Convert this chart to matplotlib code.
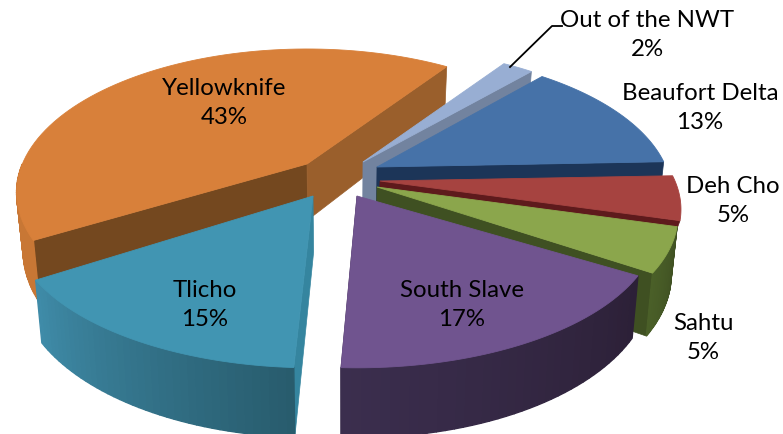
import numpy as np
import matplotlib
matplotlib.use('Agg')
import matplotlib.pyplot as plt
from matplotlib.colors import to_rgb
from matplotlib.patches import Polygon

plt.rcParams['font.family'] = ['Lato', 'DejaVu Sans']

# Chart data, clockwise from the first slice
regions = ['Beaufort Delta', 'Deh Cho', 'Sahtu', 'South Slave', 'Tlicho', 'Yellowknife', 'Out of the NWT']
shares = [13, 5, 5, 17, 15, 43, 2]

# Colours per slice: top face, radial wall at slice end, radial wall at slice start, outer wall (2 ends)
top_colors = ['#4672a8', '#a64340', '#8ba64c', '#70548f', '#4195b2', '#d8803a', '#98aed3']
end_walls = ['#1c3558', '#5e1a1c', '#3f5022', '#33263f', '#2a6a80', '#9a5f2c', '#72839f']
start_walls = [None, None, None, None, '#35859f', '#74481f', None]
outer_a = ['#2f4f78', '#7a2c2a', '#4a5f28', '#3b2e4e', '#3f8ba8', '#c87735', '#72839f']
outer_b = ['#2f4f78', '#7a2c2a', '#3f5022', '#2c2037', '#285c6d', '#c87735', '#72839f']
rim_shown = [True, False, True, True, True, True, False]

# Layout in pixels
apex_x = [377, 380, 377, 357, 313, 307, 363]
apex_y = [168, 182, 188, 197, 197, 165, 163]
x_scale = [0.98, 1, 1, 1, 1, 0.965, 1]
wall_scale = [1, 0.3, 1, 1, 1, 1, 1]
angle_shift = [0, 0, 0, -2.5, -2, 1, 0]
label_x = [700, 733, 703, 462, 205, 224, 647]
label_y = [108, 201, 338, 305, 305, 103, 35]
start_angle = 41
draw_order = [5, 6, 0, 1, 2, 4, 3]

# Perspective of the tilted disc
R_X = 295
R_Y = 137.8
K = 0.198
DEPTH = 56
SHRINK = 0.98
MID_X = 345


def project(theta, i):
    # theta in degrees, clockwise from the back of the pie
    t = np.radians(theta)
    u, v = np.sin(t), np.cos(t)
    w = 1 + K * v
    return apex_x[i] + x_scale[i] * R_X * u / w, apex_y[i] - R_Y * v / w, w


def lower(x, y, w, scale=1):
    # same point on the bottom of the slab
    return MID_X + (x - MID_X) * SHRINK, y + scale * DEPTH / w


def radial_wall(ax, theta, i, color):
    x0, y0 = apex_x[i], apex_y[i]
    x1, y1, w1 = project(theta, i)
    xb0, yb0 = lower(x0, y0, 1, wall_scale[i])
    xb1, yb1 = lower(x1, y1, w1, wall_scale[i])
    ax.add_patch(Polygon([(x0, y0), (x1, y1), (xb1, yb1), (xb0, yb0)], closed=True, fc=color, ec=color, lw=0.5))


def outer_wall(ax, a0, a1, i):
    angles = np.linspace(a0, a1, 41)
    c0, c1 = np.array(to_rgb(outer_a[i])), np.array(to_rgb(outer_b[i]))
    for k in range(40):
        xa, ya, wa = project(angles[k], i)
        xc, yc, wc = project(angles[k + 1], i)
        xab, yab = lower(xa, ya, wa)
        xcb, ycb = lower(xc, yc, wc)
        f = k / 39
        col = c1 * (1 - f) + c0 * f
        ax.add_patch(Polygon([(xa, ya), (xc, yc), (xcb, ycb), (xab, yab)], closed=True, fc=col, ec=col, lw=1.0))


fig = plt.figure(figsize=(7.83, 4.35), dpi=100)
ax = fig.add_axes([0, 0, 1, 1])
ax.set_xlim(0, 783)
ax.set_ylim(435, 0)
ax.axis('off')

fractions = np.array(shares) / sum(shares)
starts = start_angle + 360 * np.concatenate(([0], np.cumsum(fractions)[:-1])) + np.array(angle_shift)
ends = starts + 360 * fractions

for i in draw_order:
    a0, a1 = starts[i], ends[i]
    if start_walls[i] is not None:
        radial_wall(ax, a0, i, start_walls[i])
    if regions[i] != 'Tlicho':
        radial_wall(ax, a1, i, end_walls[i])
    # the part of the rim that faces the viewer
    if rim_shown[i] and a0 < 270 and a1 > 90:
        outer_wall(ax, max(a0, 90), min(a1, 270), i)
    angles = np.linspace(a0, a1, 80)
    xs, ys, _ = project(angles, i)
    pts = [(apex_x[i], apex_y[i])] + list(zip(xs, ys))
    ax.add_patch(Polygon(pts, closed=True, fc=top_colors[i], ec=top_colors[i], lw=0.6))

# Leader line for the small slice
leader_x = [510, 552, 562]
leader_y = [68, 27, 27]
ax.plot(leader_x, leader_y, color='black', lw=1.3)

for i in range(len(regions)):
    ax.text(label_x[i], label_y[i], f'{regions[i]}\n{shares[i]}%', ha='center', va='center',
            fontsize=17.3, color='black', linespacing=1.5)

fig.savefig('out.png', dpi=100)
